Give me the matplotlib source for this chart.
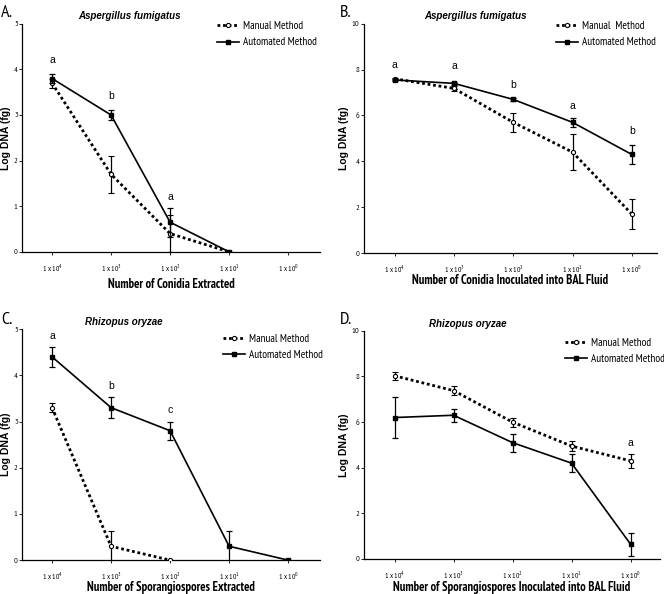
import numpy as np
import matplotlib
matplotlib.use("Agg")
import matplotlib.pyplot as plt
from matplotlib import font_manager as fm
from matplotlib.lines import Line2D

_installed = {f.name for f in fm.fontManager.ttflist}
_cands = ['Liberation Sans Narrow', 'Arial Narrow', 'PT Sans Narrow', 'Roboto Condensed',
          'Archivo Narrow', 'Liberation Sans', 'DejaVu Sans']
_fams = [f for f in _cands if f in _installed] or ['DejaVu Sans']
plt.rcParams['font.family'] = _fams + ['DejaVu Sans']
plt.rcParams['mathtext.fontset'] = 'custom'
plt.rcParams['mathtext.rm'] = _fams[0]
WIDE = ['Liberation Sans', 'DejaVu Sans']

x_labels = [r'1 x 10$^{4}$', r'1 x 10$^{3}$', r'1 x 10$^{2}$', r'1 x 10$^{1}$', r'1 x 10$^{0}$']

# Panel A
a_manual = [3.7, 1.7, 0.4, 0.0, np.nan]
a_manual_err = [0.1, 0.4, 0.4, 0.0, np.nan]
a_auto = [3.8, 3.0, 0.65, 0.0, np.nan]
a_auto_err = [0.1, 0.1, 0.32, 0.0, np.nan]
a_letters = ['a', 'b', 'a', '', '']
a_letter_y = [4.1, 3.3, 1.1, None, None]

# Panel B
b_manual = [7.6, 7.18, 5.7, 4.4, 1.7]
b_manual_err = [0.05, 0.1, 0.4, 0.78, 0.65]
b_auto = [7.55, 7.4, 6.7, 5.7, 4.3]
b_auto_err = [0.05, 0.05, 0.08, 0.2, 0.4]
b_letters = ['a', 'a', 'b', 'a', 'b']
b_letter_y = [8.0, 7.95, 7.1, 6.2, 5.1]

# Panel C
c_manual = [3.3, 0.3, 0.0, np.nan, np.nan]
c_manual_err = [0.1, 0.33, 0.0, np.nan, np.nan]
c_auto = [4.4, 3.3, 2.8, 0.3, 0.0]
c_auto_err = [0.22, 0.22, 0.2, 0.33, 0.0]
c_letters = ['a', 'b', 'c', '', '']
c_letter_y = [4.75, 3.65, 3.15, None, None]

# Panel D
d_manual = [8.03, 7.38, 6.0, 4.95, 4.3]
d_manual_err = [0.18, 0.2, 0.2, 0.2, 0.3]
d_auto = [6.2, 6.3, 5.1, 4.2, 0.65]
d_auto_err = [0.9, 0.28, 0.4, 0.4, 0.5]
d_letters = ['', '', '', '', 'a']
d_letter_y = [None, None, None, None, 4.85]

fig = plt.figure(figsize=(6.64, 5.94), dpi=100)

panels = [
    dict(pos=[0.033, 0.576, 0.449, 0.384], ymax=5, letter='A.', title='Aspergillus fumigatus',
         title_x=0.36, xlabel='Number of Conidia Extracted', manual=a_manual, merr=a_manual_err,
         auto=a_auto, aerr=a_auto_err, letters=a_letters, ly=a_letter_y, xlim=(-0.51, 4.54),
         leg=(0.64, 1.03), mlabel='Manual Method', ylx=-0.054, xly=-0.145, lpos=(0.002, 0.965)),
    dict(pos=[0.548, 0.574, 0.441, 0.386], ymax=10, letter='B.', title='Aspergillus fumigatus',
         title_x=0.38, xlabel='Number of Conidia Inoculated into BAL Fluid', manual=b_manual,
         merr=b_manual_err, auto=b_auto, aerr=b_auto_err, letters=b_letters, ly=b_letter_y,
         xlim=(-0.52, 4.42), leg=(0.64, 1.03), mlabel='Manual  Method', ylx=-0.068, xly=-0.118,
         lpos=(0.512, 0.965)),
    dict(pos=[0.033, 0.057, 0.449, 0.389], ymax=5, letter='C.', title='Rhizopus oryzae',
         title_x=0.34, xlabel='Number of Sporangiospores Extracted', manual=c_manual,
         merr=c_manual_err, auto=c_auto, aerr=c_auto_err, letters=c_letters, ly=c_letter_y,
         xlim=(-0.51, 4.54), leg=(0.66, 1.0), mlabel='Manual Method', ylx=-0.054, xly=-0.117,
         lpos=(0.002, 0.447)),
    dict(pos=[0.548, 0.059, 0.446, 0.384], ymax=10, letter='D.', title='Rhizopus oryzae',
         title_x=0.35, xlabel='Number of Sporangiospores Inoculated into BAL Fluid', manual=d_manual,
         merr=d_manual_err, auto=d_auto, aerr=d_auto_err, letters=d_letters, ly=d_letter_y,
         xlim=(-0.52, 4.5), leg=(0.665, 0.99), mlabel='Manual Method', ylx=-0.068, xly=-0.123,
         lpos=(0.512, 0.447)),
]

x = np.arange(len(x_labels))
for p in panels:
    ax = fig.add_axes(p['pos'])
    ax.errorbar(x, p['manual'], yerr=p['merr'], color='black', linestyle=(0, (1, 1)), lw=2.0,
                marker='o', ms=3, mfc='white', mec='black', mew=0.8, capsize=2, elinewidth=0.9,
                capthick=0.9, ecolor='black', zorder=3)
    ax.errorbar(x, p['auto'], yerr=p['aerr'], color='black', linestyle='-', lw=1.2,
                marker='s', ms=3.2, mfc='black', mec='black', capsize=2, elinewidth=0.9,
                capthick=0.9, ecolor='black', zorder=4)
    for i, (t, yy) in enumerate(zip(p['letters'], p['ly'])):
        if t and yy is not None:
            ax.text(x[i], yy, t, ha='center', va='bottom', fontsize=7.5, family=WIDE)
    ax.set_xlim(*p['xlim'])
    ax.set_ylim(0, p['ymax'])
    ax.set_yticks(np.arange(0, p['ymax'] + 1, 1 if p['ymax'] == 5 else 2))
    ax.set_xticks(x)
    ax.set_xticklabels(x_labels, fontsize=5.5)
    ax.tick_params(axis='y', labelsize=6, length=2, width=0.6, pad=1)
    ax.tick_params(axis='x', length=2, width=0.6, pad=5)
    for s in ['top', 'right']:
        ax.spines[s].set_visible(False)
    for s in ['left', 'bottom']:
        ax.spines[s].set_linewidth(0.9)
    ax.set_ylabel('Log DNA (fg)', fontsize=7.5, fontweight='bold', family=WIDE)
    ax.yaxis.set_label_coords(p['ylx'], 0.5)
    ax.set_xlabel(p['xlabel'], fontsize=9, fontweight='bold')
    ax.xaxis.set_label_coords(0.5, p['xly'])
    ax.xaxis.label.set_va('center')
    ax.yaxis.label.set_va('center')
    ax.text(p['title_x'], 1.01, p['title'], transform=ax.transAxes, ha='center', va='bottom',
            fontsize=7, fontweight='bold', style='italic', family=WIDE)
    handles = [
        Line2D([], [], color='black', linestyle=(0, (1, 1)), lw=2.0, marker='o', ms=3,
               mfc='white', mec='black', mew=0.8),
        Line2D([], [], color='black', linestyle='-', lw=1.2, marker='s', ms=3.2,
               mfc='black', mec='black'),
    ]
    ax.legend(handles, [p['mlabel'], 'Automated Method'], loc='upper left',
              bbox_to_anchor=p['leg'], frameon=False, fontsize=8, numpoints=1,
              handlelength=2.0, handletextpad=0.35, labelspacing=0.55, borderaxespad=0)
    fig.text(p['lpos'][0], p['lpos'][1], p['letter'], fontsize=13, ha='left', va='bottom')

fig.savefig('out.png', dpi=100)
